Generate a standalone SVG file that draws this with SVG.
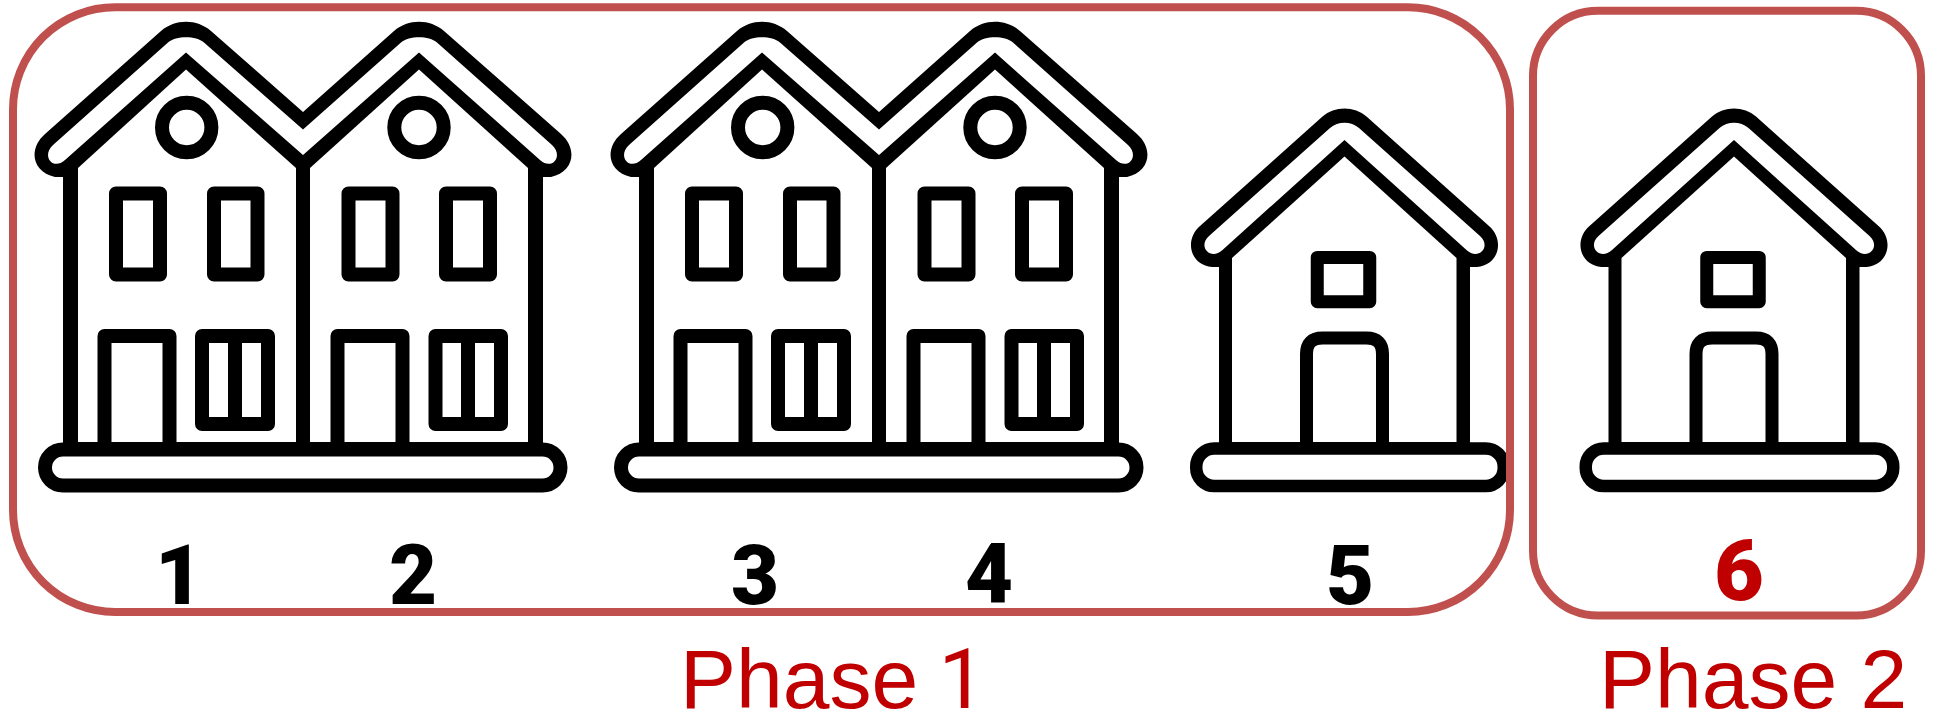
<svg xmlns="http://www.w3.org/2000/svg" width="1935" height="716" viewBox="0 0 1935 716">
<style>
.bg{fill:#fff}
.k{fill:#000}
.l{fill:none;stroke:#000;stroke-width:14;stroke-linejoin:round}
.w{fill:#fff}
.box{fill:none;stroke:#C0504D;stroke-width:8}
.num{font-family:Roboto,"Liberation Sans",sans-serif;font-weight:900;font-size:83px;text-anchor:middle;fill:#000}
.red{fill:#C00000;font-size:86px}
.ph{font-family:"Liberation Sans",Arial,sans-serif;font-size:84px;fill:#C00000}
.one{font-family:Roboto,"Liberation Sans",sans-serif}
</style>
<defs>
<g id="twin">
<path class="k" d="M45 134L161 31C175 18.600 197 18.600 211 31L303 112L394 31C408 18.600 430 18.600 444 31L561 134C578 149 574 172 551 177H543V445H63V177H55C32 172 28 149 45 134Z"/>
<path class="w" d="M78 168L186 69.500L296 168V442H78Z"/>
<path class="w" d="M310 168L419 69.500L528 168V442H310Z"/>
<path class="w" d="M65 160L186 52.500L303 155L419 52.500L540 160C552 171 564 156 552 145L437 42.500C429 35.400 409 35.400 401 42.500L303 129.500L204 42.500C196 35.400 176 35.400 168 42.500L53 145C41 156 53 171 65 160Z"/>
<rect class="l" x="45" y="449.500" width="515.500" height="36" rx="18"/>
<circle class="l" cx="186.700" cy="127.500" r="24.700"/>
<circle class="l" cx="419" cy="127.500" r="24.700"/>
<rect class="l" x="116" y="193.500" width="44" height="81"/>
<rect class="l" x="214" y="193.500" width="43.500" height="81"/>
<rect class="l" x="348.500" y="193.500" width="44" height="81"/>
<rect class="l" x="446" y="193.500" width="44" height="81"/>
<path class="l" d="M104.500 445V336H169.500V445"/>
<path class="l" d="M337.500 445V336H402.500V445"/>
<rect class="l" x="202" y="336" width="66" height="88"/>
<rect class="l" x="435.500" y="336" width="65.500" height="88"/>
<path class="k" d="M228 340H242V420H228ZM461 340H475V420H461Z"/>
</g>
<g id="single">
<path class="k" d="M1200 226L1322.500 116.500C1334.500 105.800 1354.500 105.800 1366.500 116.500L1489 226C1505 240 1499 265 1477 267H1470V445H1219V267H1212C1190 265 1184 240 1200 226Z"/>
<path class="w" d="M1232 258L1344.500 156.500L1456.500 258V442H1232Z"/>
<path class="w" d="M1222.500 250L1344.500 140L1466.500 250C1478 261 1492 247 1480 236L1359 128C1351 120.900 1338 120.900 1330 128L1209 236C1197 247 1211 261 1222.500 250Z"/>
<rect class="l" x="1196.250" y="448.500" width="307.500" height="37.500" rx="18" style="stroke-width:12.500"/>
<rect class="l" x="1317.250" y="257.400" width="52.500" height="44.300" style="stroke-width:13"/>
<path class="l" d="M1306.500 445V354Q1306.500 338 1322.500 338H1366.500Q1382.500 338 1382.500 354V445" style="stroke-width:13"/>
</g>
</defs>
<rect class="bg" width="1935" height="716"/>
<g id="house-1-2"><use href="#twin"/></g>
<g id="house-3-4"><use href="#twin" x="576"/></g>
<g id="house-5"><use href="#single"/></g>
<g id="house-6"><use href="#single" x="389.500"/></g>
<g id="phase-1-box"><rect class="box" x="13" y="7.300" width="1497" height="604.700" rx="102"/></g>
<g id="phase-2-box"><rect class="box" x="1533" y="10.800" width="388" height="604.700" rx="65"/></g>
<g id="labels">
<text class="num" x="179" y="604">1</text>
<text class="num" x="413" y="604">2</text>
<text class="num" x="755" y="604">3</text>
<text class="num" x="989" y="603">4</text>
<text class="num" x="1350" y="604">5</text>
<text class="num red" x="1739" y="600">6</text>
<text class="ph" x="680" y="708">Phase <tspan class="one" dx="-3">1</tspan></text>
<text class="ph" x="1599" y="708">Phase 2</text>
</g>
</svg>
